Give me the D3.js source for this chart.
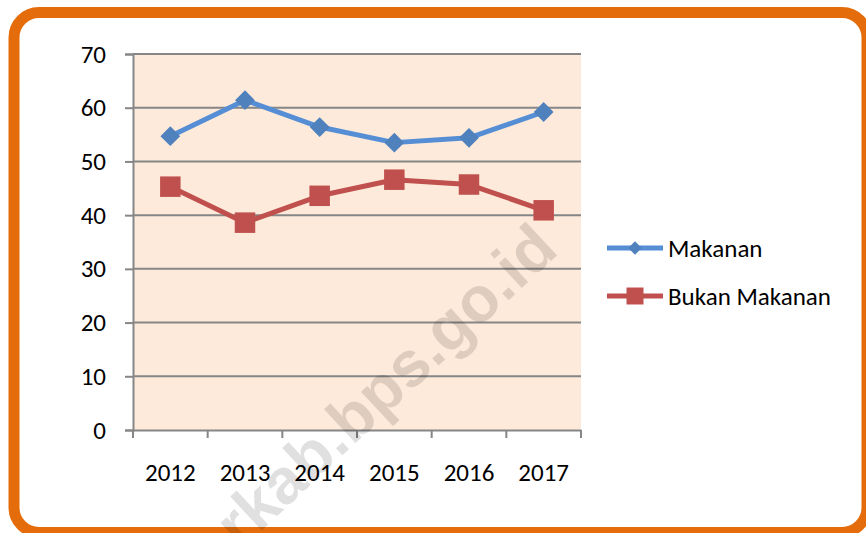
<!DOCTYPE html>
<html>
<head>
<meta charset="utf-8">
<script src="https://cdn.jsdelivr.net/npm/d3@7"></script>
<style>
  body { margin: 0; background: #fff; }
  svg text { font-family: Carlito, Lato, "Open Sans", sans-serif; fill: #000; }
</style>
</head>
<body>
<div id="chart"></div>
<script>
// data
var years = ["2012", "2013", "2014", "2015", "2016", "2017"];
var makanan = [54.7, 61.4, 56.4, 53.5, 54.4, 59.2];
var bukanMakanan = [45.3, 38.6, 43.6, 46.6, 45.7, 40.9];
var yTicks = [0, 10, 20, 30, 40, 50, 60, 70];
var seriesNames = ["Makanan", "Bukan Makanan"];

var W = 866, H = 533;
var fs = 25;
var svg = d3.select("#chart").append("svg")
  .attr("width", W).attr("height", H);

// orange frame
svg.append("rect")
  .attr("x", 14).attr("y", 12.5)
  .attr("width", 853).attr("height", 520)
  .attr("rx", 25).attr("ry", 25)
  .attr("fill", "#fff")
  .attr("stroke", "#E46C0A").attr("stroke-width", 11);

var pL = 133, pR = 581, pT = 54, pB = 430;
var grey = "#868686";

var x = d3.scaleBand().domain(years).range([pL, pR]);
var y = d3.scaleLinear().domain([0, 70]).range([pB, pT]);

// plot background
svg.append("rect")
  .attr("x", pL).attr("y", pT)
  .attr("width", pR - pL).attr("height", pB - pT)
  .attr("fill", "#FDEADA");

// gridlines
svg.append("g").selectAll("line").data(yTicks.slice(1)).enter().append("line")
  .attr("x1", pL).attr("x2", pR)
  .attr("y1", d => y(d)).attr("y2", d => y(d))
  .attr("stroke", grey).attr("stroke-width", 2);

// y axis
var yAxis = svg.append("g")
  .attr("transform", "translate(" + pL + ",0)")
  .call(d3.axisLeft(y).tickValues(yTicks).tickSize(8).tickPadding(19));
yAxis.select(".domain").attr("stroke", grey).attr("stroke-width", 2);
yAxis.selectAll(".tick line").attr("stroke", grey).attr("stroke-width", 2);
yAxis.selectAll(".tick text").attr("font-size", fs).attr("font-family", null);

// x axis: labels centred, ticks on the band edges
var xAxis = svg.append("g")
  .attr("transform", "translate(0," + pB + ")")
  .call(d3.axisBottom(x).tickSize(0).tickPadding(33));
xAxis.select(".domain").attr("stroke", grey).attr("stroke-width", 2);
xAxis.selectAll(".tick text").attr("font-size", fs).attr("font-family", null);
var edges = years.map(d => x(d)).concat([pR]);
xAxis.selectAll("line.edge").data(edges).enter().append("line")
  .attr("class", "edge")
  .attr("x1", d => d).attr("x2", d => d)
  .attr("y1", 0).attr("y2", 8)
  .attr("stroke", grey).attr("stroke-width", 2);

var cx = d => x(d) + x.bandwidth() / 2;
var line = d3.line().x(d => cx(d.year)).y(d => y(d.v));

function series(vals, lineColor, markColor, size, rot) {
  var pts = years.map((yr, i) => ({ year: yr, v: vals[i] }));
  svg.append("path").datum(pts)
    .attr("d", line)
    .attr("fill", "none")
    .attr("stroke", lineColor).attr("stroke-width", 5)
    .attr("stroke-linejoin", "round");
  svg.append("g").selectAll("path").data(pts).enter().append("path")
    .attr("d", d3.symbol().type(d3.symbolSquare).size(size))
    .attr("transform", d => "translate(" + cx(d.year) + "," + y(d.v) + ") rotate(" + rot + ")")
    .attr("fill", markColor);
}
series(makanan, "#558ED5", "#4F81BD", 196, 45);
series(bukanMakanan, "#C0504D", "#C0504D", 420, 0);

// legend
var legend = [
  { name: seriesNames[0], lc: "#558ED5", mc: "#4F81BD", size: 90, rot: 45, y: 248 },
  { name: seriesNames[1], lc: "#C0504D", mc: "#C0504D", size: 289, rot: 0, y: 296 }
];
var lg = svg.append("g").selectAll("g").data(legend).enter().append("g")
  .attr("transform", d => "translate(607," + d.y + ")");
lg.append("line").attr("x1", 0).attr("x2", 56)
  .attr("stroke", d => d.lc).attr("stroke-width", 5);
lg.append("path")
  .attr("d", d => d3.symbol().type(d3.symbolSquare).size(d.size)())
  .attr("transform", d => "translate(28,0) rotate(" + d.rot + ")")
  .attr("fill", d => d.mc);
lg.append("text").attr("x", 61).attr("y", 9)
  .attr("font-size", fs).text(d => d.name);

// watermark
svg.append("text")
  .attr("transform", "translate(385,385) rotate(-43)")
  .attr("text-anchor", "middle").attr("dy", "0.35em")
  .style("font-family", "'Liberation Sans', Arial, sans-serif")
  .style("font-weight", "bold").style("font-size", "64px")
  .style("fill", "#000").style("fill-opacity", 0.12)
  .text("rkab.bps.go.id");
</script>
</body>
</html>
